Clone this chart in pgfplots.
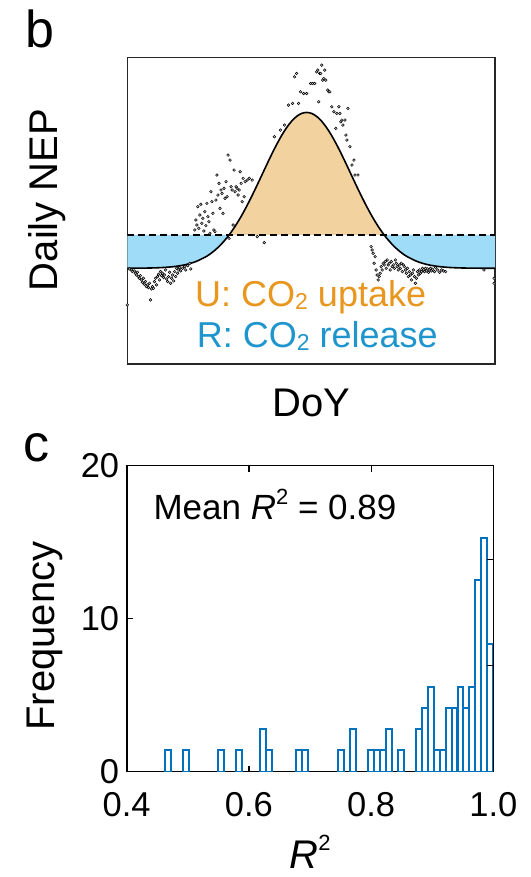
\documentclass[border=0pt]{standalone}
\usepackage{pgfplots}
\pgfplotsset{compat=1.18}
\usepackage{fontspec}
\setmainfont{Liberation Sans}
\definecolor{matblue}{RGB}{0,114,189}
\definecolor{upfill}{RGB}{242,210,158}
\definecolor{relfill}{RGB}{158,220,248}
\definecolor{uptext}{RGB}{232,150,30}
\definecolor{reltext}{RGB}{30,150,205}
\newcommand{\subtwo}{\raisebox{-0.06em}{\fontsize{23}{23}\selectfont 2}}
\newcommand{\suptwo}{\raisebox{0.45em}{\fontsize{22}{22}\selectfont 2}}
\begin{document}
\begin{tikzpicture}[x=1pt,y=1pt]
\useasboundingbox (0,0) rectangle (530,877);
% ---------------- panel b ----------------
\begin{axis}[
  at={(127.3pt,513pt)}, anchor=south west, scale only axis,
  width=367.7pt, height=306.7pt,
  xmin=0, xmax=365, ymin=-3.874, ymax=5.336,
  xtick=\empty, ytick=\empty,
  axis line style={line width=1.3pt, black!85},
  xlabel={DoY}, ylabel={Daily NEP},
  xlabel style={at={(axis description cs:0.5,-0.172)}, anchor=base, font=\fontsize{40}{48}\selectfont},
  ylabel style={at={(axis description cs:-0.191,0.535)}, anchor=base, font=\fontsize{40}{48}\selectfont},
]
% release (left)
\addplot[fill=relfill, draw=none] coordinates {
(0,0) (0,-0.999) (8,-0.997) (18,-0.994) (28,-0.987) (38,-0.972) (48,-0.943)
(58,-0.890) (68,-0.799) (78,-0.653) (83,-0.553) (88,-0.431) (93,-0.286) (98,-0.115) (101,0.000)};
% release (right)
\addplot[fill=relfill, draw=none] coordinates {
(255,0.000) (258,-0.115) (263,-0.286) (268,-0.431) (273,-0.553) (278,-0.653) (288,-0.799)
(298,-0.890) (308,-0.943) (318,-0.972) (328,-0.987) (338,-0.994) (348,-0.997) (358,-0.999) (365,-1.000) (365,0)};
% uptake
\addplot[fill=upfill, draw=none] coordinates {
(101,0.000) (103,0.082) (108,0.307) (113,0.558) (118,0.834) (123,1.130) (128,1.442) (133,1.763)
(138,2.086) (143,2.402) (148,2.702) (153,2.977) (158,3.217) (163,3.414) (168,3.560) (173,3.650)
(178,3.680) (183,3.650) (188,3.560) (193,3.414) (198,3.217) (203,2.977) (208,2.702) (213,2.402)
(218,2.086) (223,1.763) (228,1.442) (233,1.130) (238,0.834) (243,0.558) (248,0.307) (253,0.082) (255,0.000)};
% daily observations
\addplot[only marks, mark=*, mark size=1.35pt, mark options={fill=gray!40, draw=black, line width=0.5pt}] coordinates {
(0,-2.10) (2,-1.02) (4,-1.05) (5,-1.10) (7,-1.08) (8,-1.15) (9,-1.20) (10,-1.12) (11,-1.25) (12,-1.30)
(13,-1.22) (14,-1.35) (15,-1.42) (16,-1.30) (17,-1.48) (18,-1.40) (19,-1.55) (20,-1.50) (21,-1.58) (22,-1.45)
(23,-1.95) (24,-1.62) (25,-1.55) (26,-1.60) (27,-1.40) (28,-1.30) (29,-1.50) (30,-1.25) (31,-1.18) (32,-1.35)
(33,-1.10) (34,-1.22) (35,-1.15) (36,-1.28) (37,-1.20) (38,-1.05) (39,-1.32) (40,-1.40) (41,-1.25) (42,-1.12)
(43,-1.45) (44,-1.30) (45,-1.20) (46,-1.38) (47,-1.10) (48,-1.25) (49,-1.00) (50,-1.15) (51,-1.05) (52,-0.98)
(53,-1.08) (55,-1.00) (57,-0.95) (58,-1.05) (60,-0.92) (62,-0.85) (63,-1.02)
(67,0.15) (68,0.45) (69,0.30) (70,0.85) (71,0.20) (72,0.60) (73,0.92) (74,0.35) (75,0.50) (76,0.12)
(77,0.70) (78,0.28) (79,0.95) (80,0.55) (81,0.40) (82,0.05) (83,1.30) (84,1.00) (85,0.65) (86,0.15)
(87,0.10) (88,1.05) (89,1.80) (90,1.20) (91,1.55) (92,0.80) (93,1.35) (94,1.25) (95,0.65) (96,1.40)
(97,1.10) (98,1.60) (99,1.15) (100,2.40) (101,-0.10) (102,2.25) (103,1.45) (104,1.35) (105,0.30) (106,1.95)
(107,1.30) (108,1.45) (109,1.40) (110,1.20) (111,1.35) (112,1.90) (113,1.55) (114,1.00) (115,1.70) (116,1.15)
(117,1.60) (119,1.65) (121,1.70) (124,1.65) (129,-0.05) (136,-0.23)
(146,2.95) (152,3.15) (156,3.30) (160,3.90) (164,3.95) (166,4.75) (168,4.85) (170,3.95) (172,4.30) (175,4.25)
(178,4.25) (182,4.55) (184,4.55) (186,4.55) (188,4.90) (189,4.95) (190,4.00) (191,4.85) (192,4.85) (193,5.10)
(194,4.65) (195,4.70) (196,4.95) (197,4.65) (199,4.35) (200,4.30) (201,4.30) (203,3.85) (205,3.70) (207,3.20)
(208,3.65) (210,3.85) (211,3.65) (212,3.40) (213,3.45) (214,3.30) (216,3.45) (217,3.00) (218,2.85) (219,3.80)
(221,2.65) (223,2.10) (225,2.25) (226,1.80) (229,1.80)
(242,-0.35) (243,-0.45) (244,-0.55) (245,-0.85) (246,-0.65) (247,-1.05) (248,-1.20) (249,-1.35) (250,-1.25) (251,-1.15)
(252,-0.95) (253,-1.05) (254,-0.85) (255,-0.90) (256,-0.80) (257,-1.00) (258,-0.75) (259,-0.90) (260,-0.85) (261,-1.05)
(262,-0.80) (263,-0.95) (264,-0.90) (265,-1.00) (266,-0.75) (267,-0.85) (268,-0.95) (269,-1.05) (270,-0.90) (271,-1.00)
(272,-0.85) (273,-1.10) (274,-0.90) (275,-0.95) (276,-1.05) (277,-1.15) (278,-1.00) (279,-1.25) (280,-1.10) (281,-1.20)
(282,-1.35) (283,-1.15) (284,-1.05) (285,-1.25) (286,-1.45) (287,-1.30) (288,-1.10) (289,-1.20) (290,-1.05) (291,-1.15)
(292,-1.10) (293,-1.00) (294,-1.05) (295,-1.10) (296,-1.00) (297,-1.08) (298,-1.02) (299,-1.12) (300,-1.05) (301,-1.00)
(302,-1.08) (303,-1.03) (305,-1.10) (306,-0.98) (308,-1.05) (310,-1.12) (312,-1.05) (314,-1.08) (316,-1.10)
(354,-1.05) (364,-1.30) (364,-1.45)};
% fitted curve
\addplot[black, line width=1.6pt, smooth] coordinates {
(0,-0.999) (8,-0.997) (18,-0.994) (28,-0.987) (38,-0.972) (48,-0.943) (58,-0.890) (68,-0.799) (78,-0.653)
(83,-0.553) (88,-0.431) (93,-0.286) (98,-0.115) (101,0.000) (103,0.082) (108,0.307) (113,0.558) (118,0.834)
(123,1.130) (128,1.442) (133,1.763) (138,2.086) (143,2.402) (148,2.702) (153,2.977) (158,3.217) (163,3.414)
(168,3.560) (173,3.650) (178,3.680) (183,3.650) (188,3.560) (193,3.414) (198,3.217) (203,2.977) (208,2.702)
(213,2.402) (218,2.086) (223,1.763) (228,1.442) (233,1.130) (238,0.834) (243,0.558) (248,0.307) (253,0.082)
(255,0.000) (258,-0.115) (263,-0.286) (268,-0.431) (273,-0.553) (278,-0.653) (288,-0.799) (298,-0.890)
(308,-0.943) (318,-0.972) (328,-0.987) (338,-0.994) (348,-0.997) (358,-0.999) (365,-1.000)};
% zero line
\addplot[black, line width=1.3pt, dash pattern=on 7pt off 4pt] coordinates {(0,0) (365,0)};
\end{axis}
\node[anchor=base west, inner sep=0pt, text=uptext, font=\fontsize{36}{40}\selectfont] at (195,570) {U: CO\subtwo\ uptake};
\node[anchor=base west, inner sep=0pt, text=reltext, font=\fontsize{36}{40}\selectfont] at (196.7,529) {R: CO\subtwo\ release};
\node[anchor=base west, inner sep=0pt, font=\fontsize{52}{56}\selectfont] at (25,829) {b};
\node[anchor=base west, inner sep=0pt, font=\fontsize{52}{56}\selectfont] at (23,415) {c};
% ---------------- panel c ----------------
\begin{axis}[
  at={(126.7pt,105.3pt)}, anchor=south west, scale only axis,
  width=366.6pt, height=306pt,
  xmin=0.4, xmax=1.0, ymin=0, ymax=20,
  xtick={0.4,0.6,0.8,1.0}, xticklabels={0.4,0.6,0.8,1.0},
  ytick={0,10,20}, yticklabels={0,10,20},
  xtick pos=both, ytick pos=left,
  tick align=inside, major tick length=6pt,
  tick style={line width=1.2pt, black},
  axis line style={line width=1.6pt, black},
  ticklabel style={font=\fontsize{34.5}{40}\selectfont},
  xticklabel style={yshift=-17pt},
  yticklabel style={xshift=-4pt},
  xlabel={\textit{R}\suptwo}, ylabel={Frequency},
  xlabel style={at={(axis description cs:0.5,-0.316)}, anchor=base, font=\fontsize{40}{48}\selectfont},
  ylabel style={at={(axis description cs:-0.196,0.443)}, anchor=base, font=\fontsize{40}{48}\selectfont},
]
\addplot[ybar, bar width=0.00978, draw=matblue, fill=white, line width=2pt] coordinates {
(0.4671,1.389) (0.4964,1.389) (0.5551,1.389) (0.5845,1.389) (0.6236,2.778) (0.6334,1.389)
(0.6823,1.389) (0.6920,1.389) (0.7507,1.389) (0.7703,2.778) (0.7996,1.389) (0.8094,1.389)
(0.8192,1.389) (0.8290,2.778) (0.8485,1.389) (0.8779,2.778) (0.8876,4.167) (0.8974,5.556)
(0.9072,1.389) (0.9170,1.389) (0.9268,4.167) (0.9365,4.167) (0.9463,5.556) (0.9561,4.167)
(0.9659,5.556) (0.9757,12.500) (0.9854,15.278) (0.9952,8.333)};
\end{axis}
\begin{axis}[
  at={(126.7pt,105.3pt)}, anchor=south west, scale only axis,
  width=366.6pt, height=306pt,
  xmin=0.4, xmax=1.0, ymin=0, ymax=20,
  hide x axis, axis y line*=right,
  ytick={6.944,13.889}, yticklabels={},
  tick align=inside, major tick length=6pt,
  tick style={line width=1.2pt, black},
  axis line style={line width=1.6pt, black},
]
\addplot[draw=none] coordinates {(0.5,1)};
\end{axis}
\node[anchor=base west, inner sep=0pt, font=\fontsize{35}{40}\selectfont] at (153.3,357) {Mean \textit{R}\suptwo\ = 0.89};
\end{tikzpicture}
\end{document}
